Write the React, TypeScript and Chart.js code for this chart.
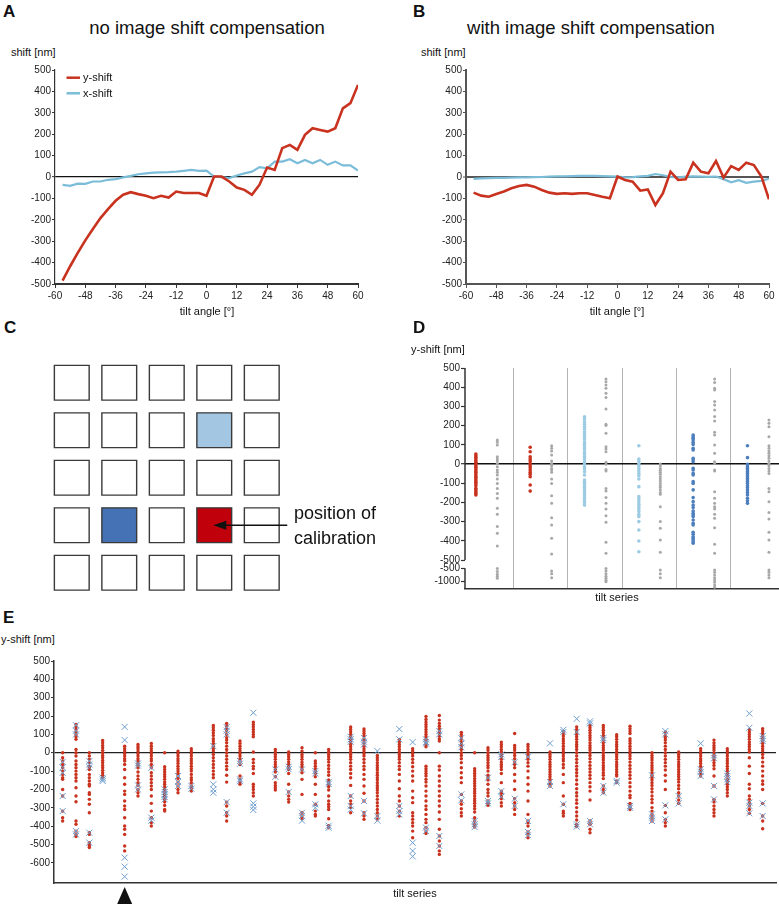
import React, { useEffect, useRef } from 'react';
import { Chart, registerables } from 'chart.js';

Chart.register(...registerables);

const FONT = '"Liberation Sans", Arial, Helvetica, sans-serif';
Chart.defaults.font.family = FONT;
Chart.defaults.color = '#222';

// ---------------- DATA ----------------
// Panels A / B : shift vs tilt angle
const tiltAngles = [-57, -54, -51, -48, -45, -42, -39, -36, -33, -30, -27, -24, -21, -18, -15, -12, -9, -6, -3, 0, 3, 6, 9, 12, 15, 18, 21, 24, 27, 30, 33, 36, 39, 42, 45, 48, 51, 54, 57, 60];
const yShiftNoComp = [-484, -417, -355, -296, -243, -192, -150, -111, -83, -71, -80, -88, -99, -88, -96, -68, -75, -75, -75, -88, 2, 2, -21, -49, -60, -83, -36, 44, 33, 135, 150, 127, 197, 228, 220, 212, 228, 321, 345, 430];
const xShiftNoComp = [-37, -41, -31, -32, -21, -21, -13, -10, -2, 5, 13, 17, 20, 22, 23, 25, 29, 33, 29, 30, 2, -1, -5, 7, 17, 25, 46, 41, 72, 72, 83, 64, 80, 64, 80, 57, 72, 54, 54, 30];
const yShiftComp = [-73, -87, -92, -79, -68, -53, -42, -37, -45, -61, -73, -79, -76, -79, -76, -76, -84, -92, -99, 2, -14, -22, -64, -58, -131, -76, 25, -14, -11, 67, 25, 17, 75, -3, 51, 33, 67, 56, 2, -104];
const xShiftComp = [-9, -6, -5, -4, -4, -3, -2, -2, -1, 0, 2, 3, 3, 4, 5, 5, 5, 4, 3, 2, -2, -1, 3, 5, 14, 8, 0, -2, 2, 3, 2, 1, 2, -10, -25, -15, -27, -22, -18, -8];
const shiftTicks = [500, 400, 300, 200, 100, 0, -100, -200, -300, -400, -500];
const angleTicks = [-60, -48, -36, -24, -12, 0, 12, 24, 36, 48, 60];

// Panel C : 5x5 grid of acquisition positions
const gridCells = [
  ['none', 'none', 'none', 'none', 'none'],
  ['none', 'none', 'none', 'light', 'none'],
  ['none', 'none', 'none', 'none', 'none'],
  ['none', 'dark', 'none', 'calib', 'none'],
  ['none', 'none', 'none', 'none', 'none'],
];

// Panel D : y-shift per tilt series (coloured = compensated, grey = not)
const dSeriesKinds = ['red', 'red', 'light', 'light', 'blue', 'blue'];
const dCompensated = [
  [52, 43, 35, 26, 17, 9, 0, -9, -17, -26, -35, -43, -52, -61, -69, -78, -87, -95, -104, -113, -127, -135, -144, -153, -161],
  [87, 64, 38, 26, 16, 3, -9, -19, -31, -43, -54, -66, -109, -141],
  [246, 234, 220, 207, 194, 182, 168, 155, 142, 130, 116, 102, 90, 78, 64, 50, 38, 26, 12, 0, -14, -26, -40, -57, -83, -92, -101, -113, -123, -135, -148, -161, -175, -187, -200, -214],
  [95, 26, 16, 3, -9, -23, -36, -49, -61, -78, -118, -170, -182, -196, -210, -222, -234, -248, -262, -274, -300, -344, -401, -457],
  [151, 142, 134, 125, 113, 102, 82, 73, 30, 21, 12, -23, -31, -49, -57, -92, -101, -135, -175, -196, -214, -227, -245, -257, -266, -274, -292, -309, -318, -356, -366, -379, -387, -396, -405, -413],
  [95, 33, -2, -14, -23, -31, -40, -49, -57, -66, -75, -83, -92, -101, -113, -123, -135, -148, -161, -179, -191, -205],
];
const dUncompensated = [
  [125, 113, 99, 38, 26, 16, 3, -14, -31, -43, -57, -78, -101, -127, -153, -179, -231, -262, -326, -361, -427, -510, -620, -720, -800, -870],
  [95, 82, 68, 47, 16, 3, -9, -23, -31, -43, -78, -101, -165, -205, -280, -318, -387, -469, -600, -700, -850],
  [443, 429, 412, 394, 368, 346, 287, 207, 200, 160, 90, 78, 64, 9, -1, -28, -36, -127, -141, -175, -205, -234, -269, -304, -408, -465, -510, -600, -700, -800, -870, -950, -1000],
  [0, -10, -23, -33, -43, -54, -66, -78, -89, -101, -113, -123, -135, -148, -158, -222, -300, -335, -396, -460, -560, -700, -850],
  [443, 425, 394, 386, 325, 307, 281, 247, 224, 165, 151, 99, 56, 12, 3, -31, -36, -144, -179, -205, -222, -234, -262, -283, -332, -418, -465, -563, -650, -750, -850, -937, -1022, -1123, -1210],
  [229, 212, 194, 142, 95, 82, 68, 56, 43, 30, 16, 3, -9, -23, -36, -49, -127, -144, -196, -252, -286, -356, -396, -460, -563, -650, -750, -850],
];
const dUpperTicks = [500, 400, 300, 200, 100, 0, -100, -200, -300, -400, -500];
const dLowerTicks = [-500, -1000];

// Panel E : y-shift per tilt series
const eGroupSizes = [4, 6, 4, 5, 3, 4, 6, 7, 3, 3, 2];
const eMarkedSeries = 4;
const eTicks = [500, 400, 300, 200, 100, 0, -100, -200, -300, -400, -500, -600];
const eDots = [
  [0, -27, -45, -64, -82, -100, -118, -136, -145, -200, -236, -318, -354, -372],
  [154, 141, 127, 113, 100, 87, 73, 18, 0, -18, -45, -64, -82, -100, -118, -136, -154, -191, -236, -267, -372, -390, -427, -445, -457],
  [0, -18, -36, -54, -73, -82, -91, -118, -136, -154, -172, -181, -218, -227, -254, -281, -327, -436, -445, -490, -499, -508, -517],
  [67, 54, 40, 27, 13, 0, -15, -27, -42, -54, -69, -82, -96, -109, -123, -136],
  [36, 22, 9, -4, -18, -33, -45, -64, -91, -136, -172, -209, -227, -263, -290, -309, -354, -399, -417, -445, -508, -535],
  [45, 33, 22, 9, -4, -18, -33, -45, -58, -69, -82, -105, -127, -145, -163, -178, -200, -218, -236],
  [51, 36, 22, 9, -4, -18, -33, -45, -64, -82, -109, -127, -145, -163, -181, -200, -236, -276, -318, -354, -381, -399],
  [0, -76, -91, -105, -118, -131, -145, -160, -172, -185, -200, -214, -227, -240, -254, -269, -287, -309, -318],
  [9, -4, -18, -33, -45, -58, -73, -87, -100, -113, -127, -141, -160, -181, -200, -218],
  [22, 9, -4, -18, -33, -45, -58, -73, -87, -100, -118, -136, -149, -163, -181, -196, -209],
  [149, 136, 123, 109, 94, 76, 64, 51, 36, 22, 9, -9, -27, -45, -64, -82, -100, -118, -136],
  [160, 145, 131, 118, 100, 82, 69, 54, 36, 18, 0, -18, -36, -54, -73, -91, -123, -160, -269, -290, -327, -345, -372],
  [64, 51, 36, 22, 9, -4, -18, -33, -45, -64, -127, -145, -160, -172],
  [167, 154, 141, 127, 113, 100, 87, 4, -36, -54, -73, -87, -113, -172, -185, -200, -218, -236],
  [18, 4, -9, -22, -36, -51, -64, -76, -91, -105, -131, -163, -178, -191, -203],
  [4, -9, -22, -36, -51, -64, -76, -91, -113, -172, -214, -236, -254, -269],
  [27, 9, -9, -22, -36, -51, -64, -76, -91, -109, -145, -227, -327, -345, -360],
  [0, -45, -58, -73, -87, -100, -113, -131, -172, -227, -281, -318, -336, -345],
  [18, 4, -9, -22, -36, -51, -69, -87, -105, -123, -149, -160, -172, -185, -203, -236, -263, -281, -294, -309, -360, -398, -409],
  [140, 127, 113, 100, 87, 73, 58, 45, 33, 18, 4, -9, -22, -36, -54, -73, -91, -113, -136, -178, -236, -263, -281, -299, -327],
  [129, 118, 105, 91, 76, 64, 51, 36, 22, 9, -4, -18, -36, -54, -73, -91, -118, -145, -181, -221, -263, -327, -345, -363],
  [-15, -27, -40, -54, -69, -82, -94, -109, -123, -136, -149, -163, -178, -191, -203, -218, -236, -254, -272, -290, -309, -327, -345, -363],
  [73, 58, 45, 33, 18, 4, -9, -22, -36, -54, -73, -91, -118, -154, -196, -236, -263, -290, -318, -345],
  [22, 9, -4, -18, -36, -54, -76, -100, -127, -154, -209, -245, -272, -327, -345, -363, -381, -399, -427, -463],
  [198, 181, 167, 154, 141, 127, 113, 100, 87, 73, 58, 45, 33, -73, -87, -100, -113, -127, -145, -160, -181, -209, -236, -263, -290, -309, -336, -363, -381, -408, -427, -440],
  [203, 178, 160, 145, 131, 118, 105, 91, 76, 64, 0, -73, -94, -127, -154, -181, -209, -236, -263, -290, -323, -363, -417, -454, -481, -508, -535, -554],
  [111, 100, 87, 73, 58, 45, 33, 18, 0, -15, -33, -54, -82, -109, -136, -163, -227, -263, -281, -305, -327, -345],
  [0, -87, -100, -113, -127, -141, -154, -167, -181, -196, -209, -221, -236, -251, -263, -276, -290, -305, -323, -354, -372, -390, -405],
  [27, 15, 0, -15, -27, -40, -54, -69, -82, -100, -123, -136, -149, -172, -200, -218, -236, -263, -276, -287],
  [58, 45, 33, 18, 4, -9, -22, -36, -51, -64, -76, -91, -113, -163, -209, -221, -236, -251, -272, -290],
  [105, 40, 27, 15, 0, -15, -33, -51, -64, -82, -118, -154, -200, -251, -272, -290, -309, -336],
  [45, 33, 18, 4, -9, -22, -36, -54, -73, -100, -136, -172, -209, -263, -336, -372, -381, -399, -432, -445, -463],
  [4, -9, -22, -36, -51, -64, -76, -91, -105, -118, -131, -145, -160, -172, -181],
  [118, 105, 91, 76, 64, 51, 36, 22, 9, -4, -18, -33, -45, -64, -82, -118, -163, -236, -281, -318, -330, -345],
  [141, 127, 113, 100, 87, 73, 58, 45, 33, 18, 0, -18, -36, -54, -73, -91, -109, -127, -149, -172, -196, -218, -236, -258, -276, -299, -323, -345, -367, -390, -403],
  [149, 136, 123, 109, 94, 82, 69, 54, 40, 27, 15, 0, -15, -33, -51, -69, -87, -105, -123, -141, -163, -185, -209, -258, -372, -390, -417, -436],
  [149, 136, 123, 109, 94, 82, 69, 54, 40, 27, 15, 0, -15, -27, -40, -54, -69, -82, -94, -109, -123, -141, -181, -200, -218],
  [98, 87, 73, 58, 45, 33, 18, 4, -9, -22, -36, -51, -64, -76, -91, -105, -118, -127, -154, -163],
  [145, 131, 118, 105, 76, 64, 51, 36, 22, 9, -4, -18, -33, -51, -69, -87, -105, -123, -141, -163, -185, -209, -232, -245, -276, -290, -300, -309],
  [0, -15, -27, -40, -54, -69, -82, -94, -109, -123, -136, -149, -163, -178, -196, -214, -236, -254, -272, -299, -318, -336, -354, -372],
  [113, 94, 82, 69, 54, 36, 18, 0, -18, -36, -54, -73, -94, -123, -154, -200, -287, -327, -363, -381, -399],
  [4, -9, -22, -36, -51, -64, -76, -91, -105, -118, -131, -145, -160, -178, -196, -218, -236, -258, -276],
  [22, 9, -4, -18, -33, -45, -58, -73, -87, -100, -113, -127],
  [69, 54, 40, 27, 15, 0, -15, -27, -40, -54, -69, -87, -127, -181, -254, -269, -290, -309, -327, -345],
  [22, 9, -4, -18, -33, -45, -58, -73, -87, -100, -113, -127, -145, -160, -172, -185, -200, -218, -236],
  [127, 113, 100, 87, 73, 58, 45, 33, 18, 4, -27, -73, -113, -172, -196, -236, -254, -272, -290, -309, -330],
  [131, 118, 105, 91, 76, 64, 51, 36, 22, 9, -9, -27, -51, -73, -100, -127, -154, -172, -200, -276, -345, -372, -414],
];
const eCrosses = [
  [-50, -80, -110, -236, -318],
  [150, 120, 100, -427, -445],
  [-45, -64, -80, -436, -490],
  [-136, -145, -154],
  [141, 69, -572, -621, -675],
  [-58, -70, -178, -200],
  [-82, -354, -370],
  [-200, -214, -227, -240, -254],
  [-127, -160, -181],
  [-181, -196],
  [36, -172, -200, -218],
  [140, 120, 100, -269, -327],
  [-45, -60, -145, -155],
  [218, -276, -294, -312],
  [-91, -131],
  [-76, -90, -214],
  [-91, -327, -345, -370],
  [-100, -113, -281, -300],
  [-160, -170, -398, -409],
  [87, 73, 60, -236, -290, -310],
  [80, 60, 45, -263, -330],
  [9, -345, -370],
  [129, 73, -290, -318, -336],
  [58, -490, -535, -565],
  [73, 58, 50, -408, -427],
  [118, 100, -454, -508],
  [80, 50, 30, -227, -260],
  [-372, -390, -405],
  [-136, -263, -276],
  [-9, -22, -209, -240],
  [-51, -251, -290],
  [-22, -372, -432, -450],
  [51, -160, -181],
  [125, 113, -281],
  [185, 113, -390, -403],
  [171, 160, -372, -390],
  [69, 80, -181, -218],
  [-154, -163],
  [-290, -300],
  [-123, -336, -354, -372],
  [118, 100, -287, -363],
  [-236, -276],
  [51, -90, -105, -127],
  [-15, -30, -181, -254],
  [-113, -127, -145, -160],
  [214, 136, -272, -290, -330],
  [91, 76, 64, -276, -345],
];

// ---------------- STYLE ----------------
const RED = '#c8321e';
const XBLUE = '#7bbdd8';
const CROSS = '#6f9fcf';
const D_COLORS: Record<string, string> = { red: '#c8321e', light: '#9ccbe3', blue: '#4d7fbd' };
const GREY = '#a8a8a8';
const CELL_FILL: Record<string, string> = { none: '#ffffff', light: '#a3c6e2', dark: '#4472b4', calib: '#c0000b' };

// ---------------- CONFIG BUILDERS ----------------
function lineConfig(o: any) {
  const legendPlugin = {
    id: 'insideLegend',
    afterDraw(chart: any) {
      if (!o.legend) return;
      const ctx = chart.ctx;
      const { left, top } = chart.chartArea;
      ctx.save();
      chart.data.datasets.forEach((ds: any, i: number) => {
        const y = top + 7.7 + i * 15.6;
        ctx.strokeStyle = ds.borderColor;
        ctx.lineWidth = 2.5;
        ctx.beginPath();
        ctx.moveTo(left + 11.5, y);
        ctx.lineTo(left + 25, y);
        ctx.stroke();
        ctx.fillStyle = '#111';
        ctx.font = '11px ' + FONT;
        ctx.textBaseline = 'middle';
        ctx.textAlign = 'left';
        ctx.fillText(ds.label, left + 28, y + 0.5);
      });
      ctx.restore();
    },
  };
  return {
    type: 'line',
    data: {
      datasets: [
        { label: 'y-shift', data: tiltAngles.map((a, i) => ({ x: a, y: o.y[i] })), borderColor: RED, borderWidth: 2.6, pointRadius: 0, tension: 0, fill: false },
        { label: 'x-shift', data: tiltAngles.map((a, i) => ({ x: a, y: o.x[i] })), borderColor: XBLUE, borderWidth: 2.2, pointRadius: 0, tension: 0, fill: false },
      ],
    },
    options: {
      animation: false,
      responsive: false,
      events: [],
      layout: { autoPadding: false, padding: { top: 10, right: o.rightPad, left: 0, bottom: 0 } },
      plugins: { legend: { display: false }, tooltip: { enabled: false }, title: { display: false } },
      scales: {
        x: {
          type: 'linear', min: -60, max: 60,
          afterBuildTicks: (s: any) => { s.ticks = angleTicks.map((v) => ({ value: v })); },
          ticks: { font: { size: 10 }, color: '#222', padding: 2, maxRotation: 0, autoSkip: false },
          grid: { display: true, drawOnChartArea: false, drawTicks: true, tickLength: 4, tickColor: o.axisColor, tickWidth: 1 },
          border: { display: true, color: o.axisColor, width: o.xBorder },
          afterFit: (s: any) => { s.height = 21; },
        },
        y: {
          type: 'linear', min: -500, max: 500,
          afterBuildTicks: (s: any) => { s.ticks = shiftTicks.map((v) => ({ value: v })); },
          ticks: { font: { size: 10 }, color: '#222', padding: 1, autoSkip: false },
          grid: {
            display: true, drawOnChartArea: true, drawTicks: true, tickLength: 3, tickColor: o.axisColor, tickWidth: 1,
            color: (c: any) => (c.tick && c.tick.value === 0 ? o.zeroColor : 'rgba(0,0,0,0)'),
            lineWidth: (c: any) => (c.tick && c.tick.value === 0 ? o.zeroWidth : 1),
          },
          border: { display: true, color: o.axisColor, width: o.yBorder },
          afterFit: (s: any) => { s.width = o.yAxisWidth; },
        },
      },
    },
    plugins: [legendPlugin],
  };
}

function gridConfig() {
  const points = gridCells.flatMap((row, r) => row.map((kind, c) => ({ x: c, y: r, kind })));
  const arrowPlugin = {
    id: 'calibArrow',
    afterDatasetsDraw(chart: any) {
      const ctx = chart.ctx;
      const xs = chart.scales.x;
      const ys = chart.scales.y;
      let r = 0, c = 0;
      gridCells.forEach((row, ri) => row.forEach((k, ci) => { if (k === 'calib') { r = ri; c = ci; } }));
      const tipX = xs.getPixelForValue(c) - 1;
      const tailX = xs.getPixelForValue(c + 1) + 25.5;
      const y = ys.getPixelForValue(r);
      ctx.save();
      ctx.strokeStyle = '#111';
      ctx.lineWidth = 1.3;
      ctx.beginPath();
      ctx.moveTo(tipX + 10, y);
      ctx.lineTo(tailX, y);
      ctx.stroke();
      ctx.fillStyle = '#111';
      ctx.beginPath();
      ctx.moveTo(tipX, y);
      ctx.lineTo(tipX + 13, y - 4.5);
      ctx.lineTo(tipX + 13, y + 4.5);
      ctx.closePath();
      ctx.fill();
      ctx.restore();
    },
  };
  return {
    type: 'scatter',
    data: {
      datasets: [{
        data: points,
        pointStyle: 'rect',
        pointRadius: 24.6,
        pointBackgroundColor: points.map((p) => CELL_FILL[p.kind]),
        pointBorderColor: '#3a3a3a',
        pointBorderWidth: 1.4,
        clip: false,
      }],
    },
    options: {
      animation: false,
      responsive: false,
      events: [],
      layout: { autoPadding: false, padding: 0 },
      plugins: { legend: { display: false }, tooltip: { enabled: false } },
      scales: {
        x: { type: 'linear', display: false, min: -1.511, max: 6.7 },
        y: { type: 'linear', display: false, reverse: true, min: -0.689, max: 4.574 },
      },
    },
    plugins: [arrowPlugin],
  };
}

const dLower = (v: number) => -543 - (-500 - v) * 0.14;
const dDisp = (v: number) => (v >= -500 ? v : dLower(v));

function stripConfigD() {
  const datasets: any[] = [];
  dCompensated.forEach((vals, g) => {
    datasets.push({
      data: vals.map((v) => ({ x: g + 0.31, y: dDisp(v) })),
      pointRadius: 1.8, pointBorderWidth: 0, pointBackgroundColor: D_COLORS[dSeriesKinds[g]],
    });
  });
  datasets.push({
    data: dUncompensated.flatMap((vals, g) => vals.map((v) => ({ x: g + 0.705, y: dDisp(v) }))),
    pointRadius: 1.5, pointBorderWidth: 0, pointBackgroundColor: GREY,
  });
  const tickLabels = [...dUpperTicks, ...dLowerTicks].map(String);
  const brokenAxis = {
    id: 'brokenAxis',
    afterDraw(chart: any) {
      const ctx = chart.ctx;
      const { left, top, bottom } = chart.chartArea;
      const ys = chart.scales.y;
      ctx.save();
      ctx.strokeStyle = '#333';
      ctx.lineWidth = 1.5;
      ctx.beginPath();
      ctx.moveTo(left, top);
      ctx.lineTo(left, ys.getPixelForValue(-500));
      ctx.moveTo(left, ys.getPixelForValue(dLower(-500)));
      ctx.lineTo(left, bottom);
      ctx.stroke();
      ctx.restore();
    },
  };
  return {
    type: 'scatter',
    data: { datasets },
    options: {
      animation: false,
      responsive: false,
      events: [],
      layout: { autoPadding: false, padding: { top: 8, right: 0, left: 0, bottom: 0 } },
      plugins: { legend: { display: false }, tooltip: { enabled: false } },
      scales: {
        x: {
          type: 'linear', min: 0.11, max: 5.89,
          afterBuildTicks: (s: any) => { s.ticks = dCompensated.slice(1).map((_, i) => ({ value: i + 1 })); },
          ticks: { display: false },
          grid: { display: true, drawOnChartArea: true, drawTicks: false, color: '#b3b3b3', lineWidth: 1 },
          border: { display: true, color: '#333', width: 1.5 },
          afterFit: (s: any) => { s.height = 11; },
        },
        y: {
          type: 'linear', min: -651, max: 500,
          afterBuildTicks: (s: any) => {
            s.ticks = [...dUpperTicks.map((v) => ({ value: v })), ...dLowerTicks.map((v) => ({ value: dLower(v) }))];
          },
          ticks: { font: { size: 10 }, color: '#222', padding: 1, autoSkip: false, callback: (_v: any, i: number) => tickLabels[i] },
          grid: {
            display: true, drawOnChartArea: true, drawTicks: true, tickLength: 4, tickColor: '#333', tickWidth: 1.2,
            color: (c: any) => (c.tick && c.tick.value === 0 ? '#111' : 'rgba(0,0,0,0)'),
            lineWidth: (c: any) => (c.tick && c.tick.value === 0 ? 1.4 : 1),
          },
          border: { display: false },
          afterFit: (s: any) => { s.width = 75; },
        },
      },
    },
    plugins: [brokenAxis],
  };
}

function stripConfigE() {
  const colX: number[] = [];
  let idx = 0;
  eGroupSizes.forEach((n, g) => {
    for (let k = 0; k < n; k++) { colX.push(idx + g * 0.65); idx++; }
  });
  const marker = {
    id: 'seriesMarker',
    afterDraw(chart: any) {
      const ctx = chart.ctx;
      const x = chart.scales.x.getPixelForValue(colX[eMarkedSeries]);
      const b = chart.chartArea.bottom;
      ctx.save();
      ctx.fillStyle = '#111';
      ctx.beginPath();
      ctx.moveTo(x, b + 4);
      ctx.lineTo(x + 7.5, b + 21);
      ctx.lineTo(x - 7.5, b + 21);
      ctx.closePath();
      ctx.fill();
      ctx.restore();
    },
  };
  return {
    type: 'scatter',
    data: {
      datasets: [
        {
          data: eCrosses.flatMap((vals, i) => vals.map((v) => ({ x: colX[i], y: v }))),
          pointStyle: 'crossRot', pointRadius: 4.3, pointBorderWidth: 1, pointBorderColor: CROSS, pointBackgroundColor: 'rgba(0,0,0,0)',
        },
        {
          data: eDots.flatMap((vals, i) => vals.map((v) => ({ x: colX[i], y: v }))),
          pointStyle: 'circle', pointRadius: 1.7, pointBorderWidth: 0, pointBackgroundColor: RED,
        },
      ],
    },
    options: {
      animation: false,
      responsive: false,
      events: [],
      layout: { autoPadding: false, padding: { top: 11, right: 3, left: 0, bottom: 0 } },
      plugins: { legend: { display: false }, tooltip: { enabled: false } },
      scales: {
        x: {
          type: 'linear', min: -0.65, max: 53.5,
          ticks: { display: false },
          grid: { display: true, drawOnChartArea: false, drawTicks: false },
          border: { display: true, color: '#333', width: 1.5 },
          afterFit: (s: any) => { s.height = 21; },
        },
        y: {
          type: 'linear', min: -710, max: 500,
          afterBuildTicks: (s: any) => { s.ticks = eTicks.map((v) => ({ value: v })); },
          ticks: { font: { size: 10 }, color: '#222', padding: 1, autoSkip: false },
          grid: {
            display: true, drawOnChartArea: true, drawTicks: true, tickLength: 3, tickColor: '#333', tickWidth: 1,
            color: (c: any) => (c.tick && c.tick.value === 0 ? '#222' : 'rgba(0,0,0,0)'),
            lineWidth: (c: any) => (c.tick && c.tick.value === 0 ? 1.2 : 1),
          },
          border: { display: true, color: '#333', width: 1.5 },
          afterFit: (s: any) => { s.width = 54; },
        },
      },
    },
    plugins: [marker],
  };
}

// ---------------- COMPONENTS ----------------
function ChartBox({ left, top, width, height, make }: { left: number; top: number; width: number; height: number; make: () => any }) {
  const ref = useRef<HTMLCanvasElement | null>(null);
  useEffect(() => {
    if (!ref.current) return;
    const chart = new Chart(ref.current, make());
    return () => { chart.destroy(); };
  }, []);
  return <canvas ref={ref} width={width} height={height} style={{ position: 'absolute', left, top, width, height }} />;
}

function Label({ x, y, size, bold, center, children }: any) {
  return (
    <div
      style={{
        position: 'absolute', left: x, top: y, fontSize: size, fontWeight: bold ? 700 : 400,
        fontFamily: FONT, lineHeight: 1, whiteSpace: 'nowrap', color: '#111',
        transform: center ? 'translate(-50%, -50%)' : 'translateY(-50%)',
      }}
    >
      {children}
    </div>
  );
}

export default function App() {
  return (
    <div style={{ position: 'absolute', left: 0, top: 0, width: 779, height: 904, background: '#fff', overflow: 'hidden' }}>
      {/* Panel A */}
      <ChartBox left={0} top={60} width={390} height={245} make={() => lineConfig({ y: yShiftNoComp, x: xShiftNoComp, yAxisWidth: 55, rightPad: 32, axisColor: '#333', xBorder: 2, yBorder: 1.2, zeroColor: '#111', zeroWidth: 1.3, legend: true })} />
      {/* Panel B */}
      <ChartBox left={390} top={60} width={389} height={245} make={() => lineConfig({ y: yShiftComp, x: xShiftComp, yAxisWidth: 76, rightPad: 10, axisColor: '#555', xBorder: 2, yBorder: 2, zeroColor: '#555', zeroWidth: 2, legend: false })} />
      {/* Panel C */}
      <ChartBox left={0} top={350} width={390} height={250} make={gridConfig} />
      {/* Panel D */}
      <ChartBox left={390} top={360} width={389} height={240} make={stripConfigD} />
      {/* Panel E */}
      <ChartBox left={0} top={650} width={779} height={254} make={stripConfigE} />

      <Label x={3} y={11} size={17} bold>A</Label>
      <Label x={207} y={28} size={18.5} center>no image shift compensation</Label>
      <Label x={11} y={52} size={11}>shift [nm]</Label>
      <Label x={207} y={311} size={11} center>tilt angle [°]</Label>

      <Label x={413} y={11} size={17} bold>B</Label>
      <Label x={591} y={28} size={18.5} center>with image shift compensation</Label>
      <Label x={421} y={52} size={11}>shift [nm]</Label>
      <Label x={617} y={311} size={11} center>tilt angle [°]</Label>

      <Label x={4} y={327} size={17} bold>C</Label>
      <Label x={294} y={513} size={18}>position of</Label>
      <Label x={294} y={538} size={18}>calibration</Label>

      <Label x={413} y={327} size={17} bold>D</Label>
      <Label x={411} y={349} size={11}>y-shift [nm]</Label>
      <Label x={617} y={597} size={11} center>tilt series</Label>

      <Label x={3} y={617} size={17} bold>E</Label>
      <Label x={1} y={639} size={11}>y-shift [nm]</Label>
      <Label x={415} y={893} size={11} center>tilt series</Label>
    </div>
  );
}
